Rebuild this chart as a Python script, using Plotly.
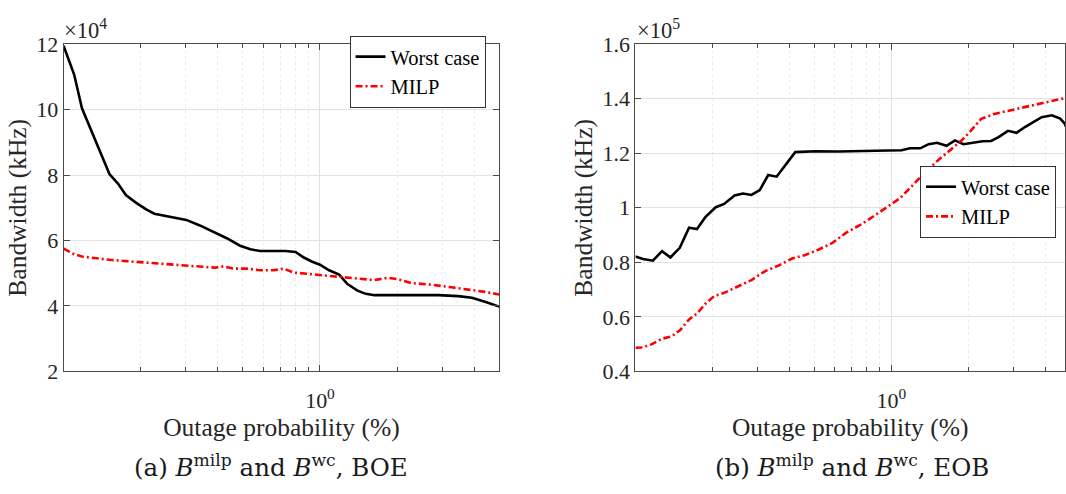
import math
import plotly.graph_objects as go

# ---------------- data (panel a: BOE, units x1e4 kHz) ----------------
x_wc_a = [0.100, 0.110, 0.118, 0.126, 0.138, 0.151, 0.163, 0.175, 0.192, 0.210,
          0.226, 0.244, 0.267, 0.301, 0.340, 0.384, 0.433, 0.488, 0.535, 0.585,
          0.660, 0.733, 0.803, 0.865, 0.933, 1.000, 1.085, 1.188, 1.28, 1.40,
          1.51, 1.63, 2.14, 2.89, 3.46, 3.91, 4.40, 5.00]
y_wc_a = [11.95, 11.07, 10.04, 9.50, 8.76, 8.03, 7.74, 7.39, 7.15, 6.95,
          6.82, 6.77, 6.73, 6.63, 6.46, 6.26, 6.07, 5.84, 5.73, 5.68,
          5.68, 5.68, 5.65, 5.48, 5.35, 5.26, 5.09, 4.96, 4.67, 4.47,
          4.37, 4.33, 4.33, 4.33, 4.30, 4.25, 4.13, 3.98]

x_milp_a = [0.100, 0.110, 0.118, 0.134, 0.151, 0.175, 0.204, 0.237, 0.275, 0.311,
            0.350, 0.389, 0.420, 0.460, 0.519, 0.585, 0.660, 0.722, 0.790, 0.865,
            1.006, 1.17, 1.36, 1.49, 1.63, 1.84, 2.01, 2.27, 2.72, 3.26,
            3.91, 4.40, 5.00]
y_milp_a = [5.75, 5.58, 5.51, 5.45, 5.41, 5.37, 5.33, 5.31, 5.27, 5.24,
            5.19, 5.17, 5.21, 5.14, 5.14, 5.09, 5.09, 5.14, 5.02, 4.99,
            4.94, 4.91, 4.86, 4.81, 4.79, 4.86, 4.82, 4.70, 4.65, 4.57,
            4.49, 4.43, 4.35]

# ---------------- data (panel b: EOB, units x1e5 kHz) ----------------
x_wc_b = [0.100, 0.107, 0.117, 0.127, 0.137, 0.149, 0.162, 0.174, 0.188, 0.206,
          0.222, 0.244, 0.263, 0.284, 0.306, 0.330, 0.356, 0.390, 0.421, 0.505,
          0.624, 0.773, 0.846, 1.000, 1.095, 1.18, 1.295, 1.397, 1.507, 1.64,
          1.77, 1.91, 2.10, 2.27, 2.45, 2.62, 2.85, 3.08, 3.32, 3.64,
          3.86, 4.23, 4.56, 4.75, 4.90]
y_wc_b = [0.821, 0.812, 0.806, 0.841, 0.818, 0.853, 0.927, 0.922, 0.967, 1.002,
          1.014, 1.045, 1.052, 1.047, 1.065, 1.120, 1.114, 1.165, 1.204, 1.207,
          1.206, 1.208, 1.209, 1.211, 1.211, 1.218, 1.218, 1.233, 1.238, 1.227,
          1.247, 1.233, 1.239, 1.244, 1.245, 1.259, 1.282, 1.275, 1.296, 1.318,
          1.332, 1.339, 1.327, 1.308, 1.280]

x_milp_b = [0.100, 0.107, 0.116, 0.127, 0.139, 0.150, 0.162, 0.174, 0.188, 0.203,
            0.222, 0.251, 0.284, 0.320, 0.362, 0.409, 0.461, 0.520, 0.588, 0.664,
            0.749, 0.846, 0.955, 1.079, 1.218, 1.334, 1.507, 1.70, 1.89, 2.04,
            2.24, 2.52, 3.03, 3.64, 4.23, 4.75, 5.00]
y_milp_b = [0.487, 0.488, 0.500, 0.520, 0.529, 0.553, 0.591, 0.612, 0.649, 0.676,
            0.688, 0.712, 0.735, 0.767, 0.788, 0.814, 0.827, 0.847, 0.871, 0.908,
            0.935, 0.967, 1.002, 1.035, 1.085, 1.124, 1.171, 1.212, 1.249, 1.282,
            1.326, 1.344, 1.361, 1.379, 1.394, 1.402, 1.405]

x_major_ticks = [1]
x_major_text = ["10<sup>0</sup>"]
x_minor_ticks = [0.2, 0.3, 0.4, 0.5, 0.6, 0.7, 0.8, 0.9, 2, 3, 4]

W, H = 1066, 494
FONT = "Liberation Serif, Times New Roman, Times, serif"
CAPFONT = "DejaVu Serif, serif"
DARK = "#262626"
AX = "#4a4a4a"


def px_x(p):
    return p / W


def px_y(p):
    return 1 - p / H


fig = go.Figure()

line_wc = dict(color="black", width=2.6)
line_milp = dict(color="#ff0000", width=2.6, dash="7px,3px,2px,3px")

fig.add_trace(go.Scatter(x=x_wc_a, y=y_wc_a, mode="lines", name="Worst case",
                         line=line_wc, xaxis="x", yaxis="y", legend="legend"))
fig.add_trace(go.Scatter(x=x_milp_a, y=y_milp_a, mode="lines", name="MILP",
                         line=line_milp, xaxis="x", yaxis="y", legend="legend"))
fig.add_trace(go.Scatter(x=x_wc_b, y=y_wc_b, mode="lines", name="Worst case",
                         line=line_wc, xaxis="x2", yaxis="y2", legend="legend2"))
fig.add_trace(go.Scatter(x=x_milp_b, y=y_milp_b, mode="lines", name="MILP",
                         line=line_milp, xaxis="x2", yaxis="y2", legend="legend2"))

ydom = [px_y(378.6), px_y(33.8)]


def xaxis_cfg(dom, rng, anchor):
    return dict(
        type="log", domain=dom, range=rng, anchor=anchor,
        tickvals=x_major_ticks, ticktext=x_major_text,
        ticks="inside", ticklen=6, tickcolor=AX, tickwidth=1,
        ticklabelstandoff=9,
        showline=True, linecolor=AX, linewidth=1, mirror="allticks",
        showgrid=True, gridcolor="#e0e0e0", gridwidth=1,
        minor=dict(tickvals=x_minor_ticks, ticks="inside", ticklen=4,
                   tickcolor=AX, showgrid=True, gridcolor="#ececec",
                   griddash="dot", gridwidth=1),
        tickfont=dict(family=FONT, size=22, color=DARK),
        title=dict(text="Outage probability (%)",
                   font=dict(family=FONT, size=25.5, color=DARK), standoff=3),
        zeroline=False,
    )


def yaxis_cfg(rng, dtick, anchor, mirror="allticks"):
    return dict(
        domain=ydom, range=rng, dtick=dtick, anchor=anchor,
        ticks="inside", ticklen=6, tickcolor=AX, tickwidth=1,
        showline=True, linecolor=AX, linewidth=1, mirror=mirror,
        showgrid=True, gridcolor="#e3e3e3", gridwidth=1,
        tickfont=dict(family=FONT, size=22, color=DARK),
        title=dict(text="Bandwidth (kHz)",
                   font=dict(family=FONT, size=25.5, color=DARK), standoff=2),
        zeroline=False,
    )


right_end = -1 + (W - 636) / 256.3

legend_common = dict(xanchor="right", yanchor="middle",
                     bgcolor="white", bordercolor="#333333", borderwidth=1,
                     font=dict(family=FONT, size=20.5, color="black"),
                     tracegroupgap=0, itemwidth=30)

fig.update_layout(
    width=W, height=H,
    margin=dict(l=0, r=0, t=0, b=0),
    paper_bgcolor="white", plot_bgcolor="white",
    font=dict(family=FONT, color=DARK),
    xaxis=xaxis_cfg([px_x(63.6), px_x(499.7)], [-1, math.log10(5)], "y"),
    yaxis=yaxis_cfg([2, 12], 2, "x"),
    xaxis2=xaxis_cfg([px_x(636), 1.0], [-1, right_end], "y2"),
    yaxis2=yaxis_cfg([0.4, 1.6], 0.2, "x2", mirror=True),
    legend=dict(x=px_x(486), y=px_y(63), **legend_common),
    legend2=dict(x=px_x(1057), y=px_y(200), **legend_common),
    showlegend=True,
)

annots = [
    dict(text="×10<sup>4</sup>", x=px_x(63), y=px_y(34), xanchor="left", yanchor="bottom"),
    dict(text="×10<sup>5</sup>", x=px_x(637), y=px_y(34), xanchor="left", yanchor="bottom"),
]
for a in annots:
    fig.add_annotation(xref="paper", yref="paper", showarrow=False,
                       font=dict(family=FONT, size=22.5, color=DARK), borderpad=0, **a)

captions = [
    ("(a) <i>B</i><sup>milp</sup> and <i>B</i><sup>wc</sup>, BOE", 271),
    ("(b) <i>B</i><sup>milp</sup> and <i>B</i><sup>wc</sup>, EOB", 853),
]
for txt, cx in captions:
    fig.add_annotation(xref="paper", yref="paper", showarrow=False,
                       x=px_x(cx), y=px_y(478), xanchor="center", yanchor="middle",
                       text=txt, font=dict(family=CAPFONT, size=24.5, color="#1a1a1a"))

fig.write_html("out.html")
